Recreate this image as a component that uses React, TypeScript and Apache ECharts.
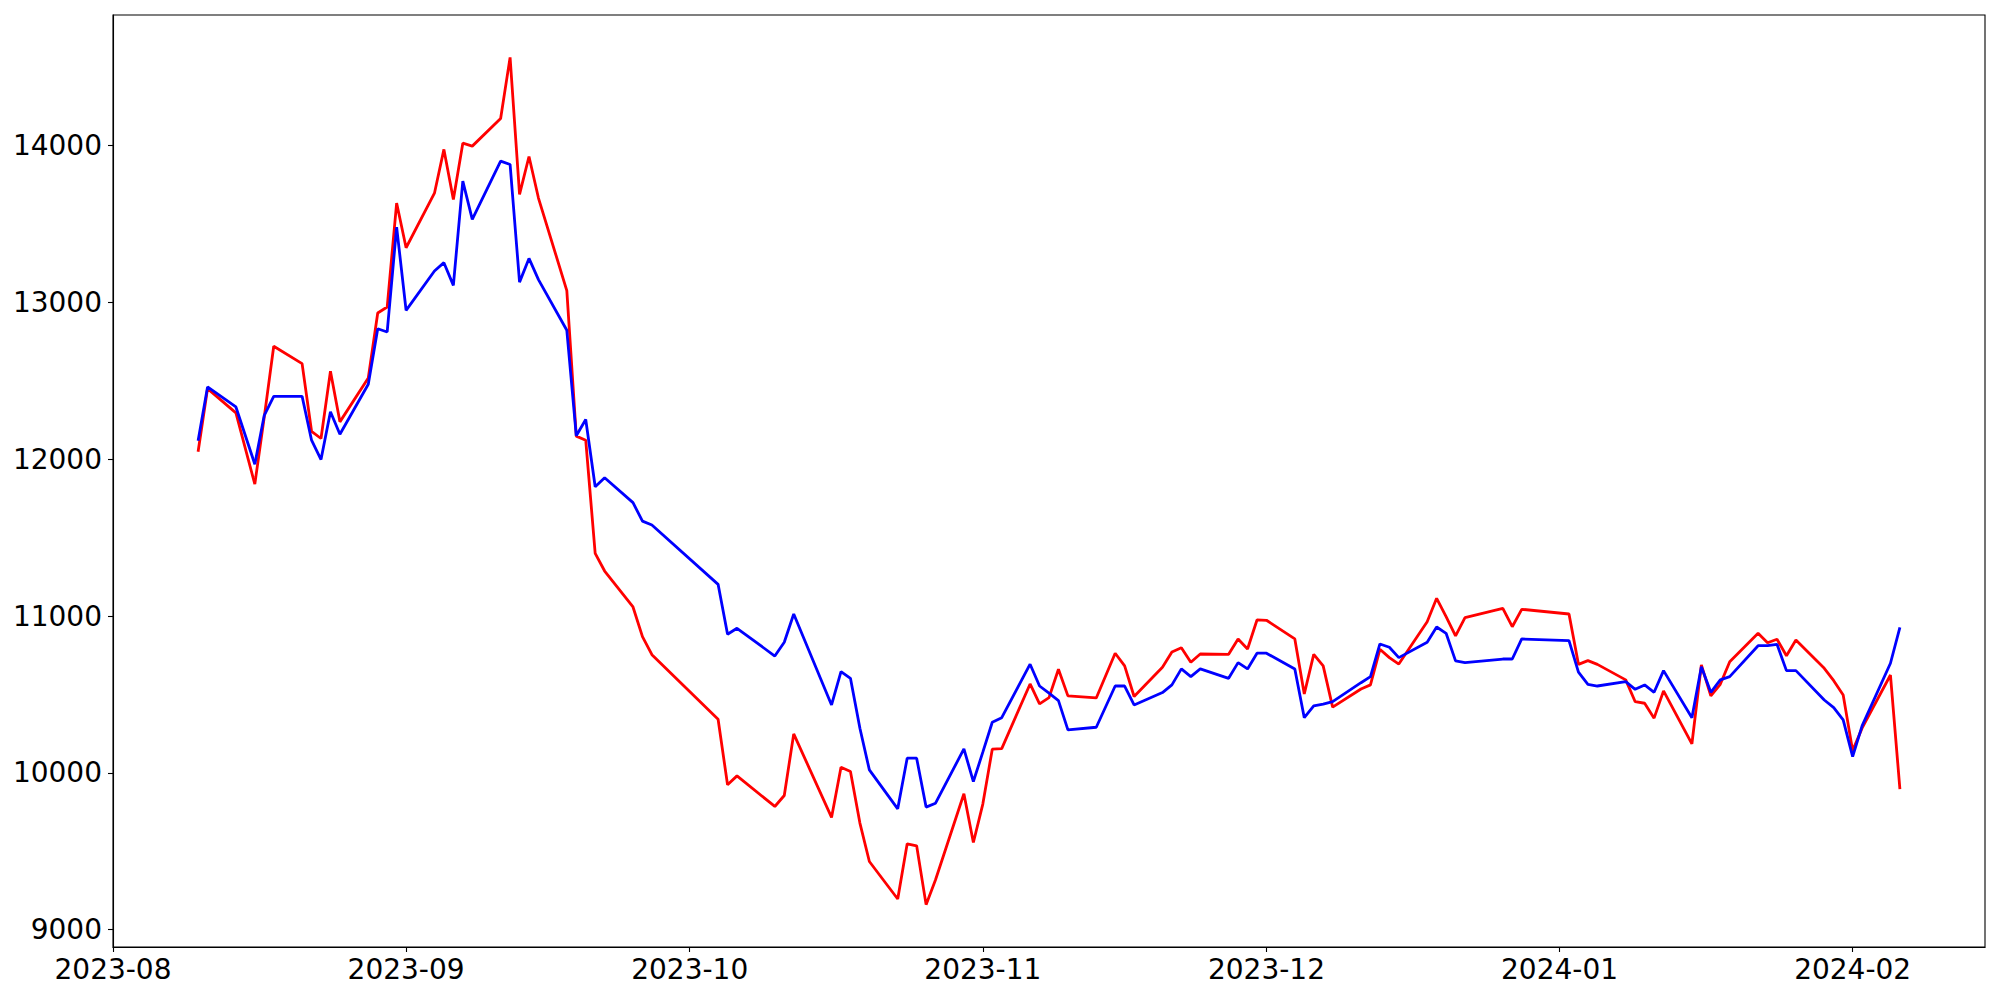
import React, { useEffect, useRef } from "react";
import * as echarts from "echarts";

const dates = [
  "2023-08-10", "2023-08-11", "2023-08-14", "2023-08-16", "2023-08-17", "2023-08-18",
  "2023-08-21", "2023-08-22", "2023-08-23", "2023-08-24", "2023-08-25",
  "2023-08-28", "2023-08-29", "2023-08-30", "2023-08-31", "2023-09-01",
  "2023-09-04", "2023-09-05", "2023-09-06", "2023-09-07", "2023-09-08",
  "2023-09-11", "2023-09-12", "2023-09-13", "2023-09-14", "2023-09-15",
  "2023-09-18", "2023-09-19", "2023-09-20", "2023-09-21", "2023-09-22",
  "2023-09-25", "2023-09-26", "2023-09-27",
  "2023-10-04", "2023-10-05", "2023-10-06",
  "2023-10-10", "2023-10-11", "2023-10-12",
  "2023-10-16", "2023-10-17", "2023-10-18", "2023-10-19", "2023-10-20",
  "2023-10-23", "2023-10-24", "2023-10-25", "2023-10-26", "2023-10-27",
  "2023-10-30", "2023-10-31", "2023-11-01", "2023-11-02", "2023-11-03",
  "2023-11-06", "2023-11-07", "2023-11-08", "2023-11-09", "2023-11-10",
  "2023-11-13", "2023-11-15", "2023-11-16", "2023-11-17",
  "2023-11-20", "2023-11-21", "2023-11-22", "2023-11-23", "2023-11-24",
  "2023-11-27", "2023-11-28", "2023-11-29", "2023-11-30", "2023-12-01",
  "2023-12-04", "2023-12-05", "2023-12-06", "2023-12-07", "2023-12-08",
  "2023-12-11", "2023-12-12", "2023-12-13", "2023-12-14", "2023-12-15",
  "2023-12-18", "2023-12-19", "2023-12-20", "2023-12-21", "2023-12-22",
  "2023-12-26", "2023-12-27", "2023-12-28",
  "2024-01-02", "2024-01-03", "2024-01-04", "2024-01-05",
  "2024-01-08", "2024-01-09", "2024-01-10", "2024-01-11", "2024-01-12",
  "2024-01-15", "2024-01-16", "2024-01-17", "2024-01-18", "2024-01-19",
  "2024-01-22", "2024-01-23", "2024-01-24", "2024-01-25", "2024-01-26",
  "2024-01-29", "2024-01-30", "2024-01-31", "2024-02-01", "2024-02-02",
  "2024-02-05", "2024-02-06",
];

const redValues = [
  12047, 12450, 12295, 11841, 12270, 12720,
  12609, 12178, 12132, 12561, 12238,
  12518, 12932, 12970, 13633, 13348,
  13696, 13975, 13656, 14015, 13996,
  14172, 14562, 13688, 13930, 13665,
  13075, 12147, 12121, 11400, 11287,
  11058, 10869, 10754,
  10342, 9924, 9981,
  9786, 9856, 10249,
  9716, 10036, 10009, 9680, 9435,
  9196, 9548, 9535, 9160, 9319,
  9867, 9556, 9801, 10151, 10155,
  10567, 10440, 10480, 10661, 10491,
  10478, 10763, 10682, 10487,
  10673, 10771, 10798, 10705, 10758,
  10756, 10854, 10790, 10975, 10973,
  10854, 10503, 10756, 10682, 10419,
  10535, 10561, 10788, 10735, 10694,
  10964, 11113, 10996, 10873, 10990,
  11049, 10932, 11043,
  11013, 10692, 10716, 10692,
  10593, 10454, 10444, 10349, 10523,
  10185, 10688, 10491, 10565, 10709,
  10890, 10830, 10852, 10747, 10847,
  10667, 10588, 10497, 10142, 10285,
  10624, 9896,
];

const blueValues = [
  12117, 12461, 12333, 11968, 12280, 12401,
  12401, 12121, 11998, 12302, 12159,
  12478, 12832, 12811, 13480, 12949,
  13200, 13253, 13108, 13773, 13529,
  13900, 13879, 13129, 13280, 13145,
  12822, 12150, 12253, 11824, 11882,
  11723, 11605, 11580,
  11202, 10884, 10922,
  10745, 10833, 11013,
  10433, 10646, 10603, 10285, 10019,
  9771, 10094, 10094, 9782, 9807,
  10153, 9945, 10132, 10323, 10352,
  10693, 10554, 10508, 10461, 10274,
  10291, 10554, 10554, 10433,
  10512, 10561, 10663, 10614, 10663,
  10603, 10703, 10663, 10763, 10763,
  10663, 10352, 10427, 10438, 10454,
  10575, 10614, 10822, 10801, 10735,
  10833, 10930, 10890, 10714, 10703,
  10726, 10726, 10854,
  10843, 10642, 10565, 10554,
  10582, 10533, 10561, 10514, 10652,
  10352, 10677, 10514, 10593, 10614,
  10811, 10811, 10820, 10652, 10652,
  10465, 10416, 10338, 10104, 10300,
  10699, 10928,
];

const xTickDates = ["2023-08-01", "2023-09-01", "2023-10-01", "2023-11-01", "2023-12-01", "2024-01-01", "2024-02-01"];
const yTickValues = [9000, 10000, 11000, 12000, 13000, 14000];
const xMinDate = "2023-08-01";
const xMaxDate = "2024-02-15";
const yMin = 8890;
const yMax = 14832;

function toTs(s: string): number {
  const [y, m, d] = s.split("-").map(Number);
  return Date.UTC(y, m - 1, d);
}

function fmtMonth(v: number): string {
  const d = new Date(v);
  return `${d.getUTCFullYear()}-${String(d.getUTCMonth() + 1).padStart(2, "0")}`;
}

export default function App() {
  const ref = useRef<HTMLDivElement>(null);

  useEffect(() => {
    if (!ref.current) return;
    const chart = echarts.init(ref.current, null, { renderer: "svg" });
    const font = "DejaVu Sans";
    const redData = dates.map((d, i) => [toTs(d), redValues[i]]);
    const blueData = dates.map((d, i) => [toTs(d), blueValues[i]]);
    const xTicks = xTickDates.map(toTs);
    chart.setOption({
      animation: false,
      backgroundColor: "#ffffff",
      grid: {
        left: 113,
        right: 15,
        top: 15,
        bottom: 53,
        show: true,
        borderColor: "#000000",
        borderWidth: 1.1,
        backgroundColor: "transparent",
        containLabel: false,
        outerBoundsMode: "none",
      },
      xAxis: {
        type: "value",
        min: toTs(xMinDate),
        max: toTs(xMaxDate),
        axisLine: { show: true, lineStyle: { color: "#000", width: 1.1 } },
        axisTick: {
          show: true,
          length: 5,
          lineStyle: { color: "#000", width: 1.1 },
          customValues: xTicks,
        },
        axisLabel: {
          show: true,
          customValues: xTicks,
          formatter: (v: number) => fmtMonth(v),
          color: "#000",
          fontFamily: font,
          fontSize: 28,
          margin: 8,
          hideOverlap: false,
        },
        splitLine: { show: false },
        minorTick: { show: false },
      },
      yAxis: {
        type: "value",
        min: yMin,
        max: yMax,
        axisLine: { show: true, lineStyle: { color: "#000", width: 1.1 } },
        axisTick: {
          show: true,
          length: 5,
          lineStyle: { color: "#000", width: 1.1 },
          customValues: yTickValues,
        },
        axisLabel: {
          show: true,
          customValues: yTickValues,
          formatter: (v: number) => String(Math.round(v)),
          color: "#000",
          fontFamily: font,
          fontSize: 28,
          margin: 11,
        },
        splitLine: { show: false },
      },
      series: [
        {
          type: "line",
          data: redData,
          showSymbol: false,
          symbol: "none",
          lineStyle: { color: "#ff0000", width: 2.8 },
          itemStyle: { color: "#ff0000" },
          z: 2,
        },
        {
          type: "line",
          data: blueData,
          showSymbol: false,
          symbol: "none",
          lineStyle: { color: "#0000ff", width: 2.8 },
          itemStyle: { color: "#0000ff" },
          z: 3,
        },
      ],
    });
    return () => chart.dispose();
  }, []);

  return (
    <div
      ref={ref}
      style={{ position: "absolute", left: 0, top: 0, width: 2000, height: 1000, background: "#fff" }}
    />
  );
}
